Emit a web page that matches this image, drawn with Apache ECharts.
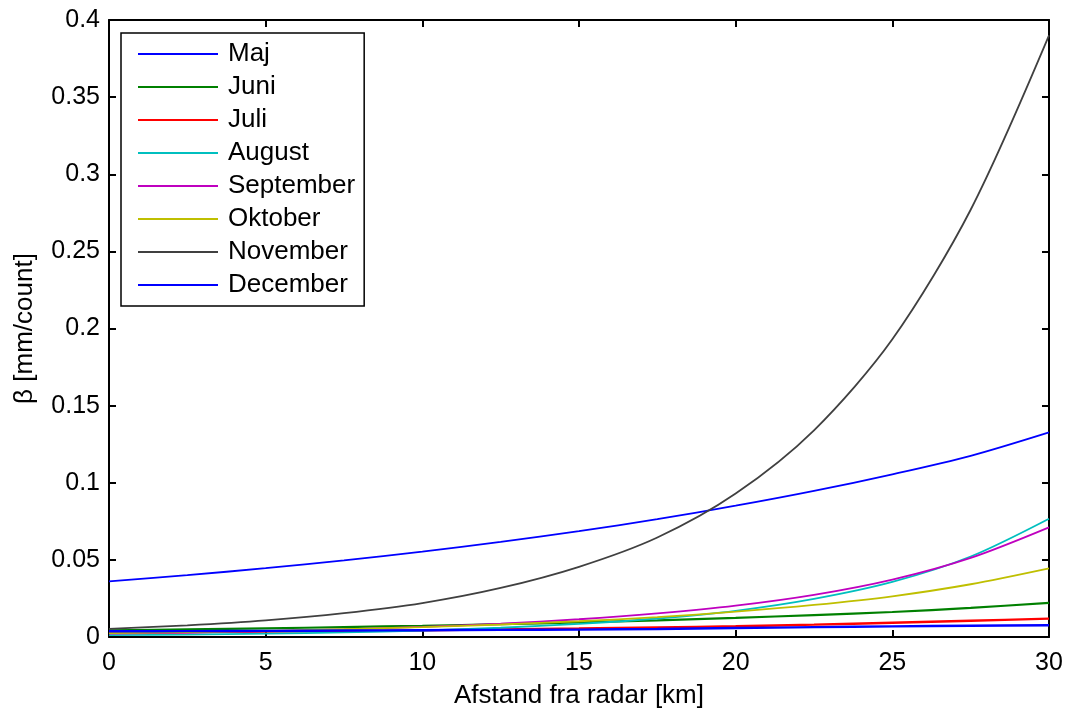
<!DOCTYPE html>
<html>
<head>
<meta charset="utf-8">
<script src="https://cdn.jsdelivr.net/npm/echarts@6/dist/echarts.min.js"></script>
<style>
  html, body { margin: 0; padding: 0; background: #fff; }
  #chart { width: 1069px; height: 708px; }
</style>
</head>
<body>
<div id="chart"></div>
<script>
// Distance from the radar [km]
const distanceKm = [0, 2.5, 5, 7.5, 10, 12.5, 15, 17.5, 20, 22.5, 25, 27.5, 30];

// beta [mm/count] per month
const maj       = [0.0360, 0.0401, 0.0446, 0.0497, 0.0553, 0.0616, 0.0686, 0.0764, 0.0851, 0.0947, 0.1055, 0.1175, 0.1327];
const juni      = [0.0043, 0.0049, 0.0056, 0.0064, 0.0073, 0.0083, 0.0095, 0.0108, 0.0124, 0.0142, 0.0162, 0.0189, 0.0221];
const juli      = [0.0028, 0.0031, 0.0035, 0.0039, 0.0043, 0.0049, 0.0055, 0.0062, 0.0070, 0.0080, 0.0092, 0.0105, 0.0119];
const august    = [0.0012, 0.0016, 0.0022, 0.0030, 0.0042, 0.0060, 0.0085, 0.0120, 0.0170, 0.0247, 0.0357, 0.0522, 0.0767];
const september = [0.0022, 0.0029, 0.0038, 0.0050, 0.0066, 0.0087, 0.0115, 0.0153, 0.0203, 0.0273, 0.0372, 0.0513, 0.0711];
const oktober   = [0.0025, 0.0032, 0.0040, 0.0051, 0.0064, 0.0081, 0.0102, 0.0129, 0.0164, 0.0208, 0.0264, 0.0342, 0.0445];
const november  = [0.0053, 0.0076, 0.0108, 0.0155, 0.0220, 0.0318, 0.0455, 0.0645, 0.0930, 0.1340, 0.1930, 0.2770, 0.3900];
const december  = [0.0037, 0.0038, 0.0040, 0.0042, 0.0044, 0.0046, 0.0048, 0.0052, 0.0058, 0.0064, 0.0069, 0.0073, 0.0076];

// Axis ticks
const xTicks = [0, 5, 10, 15, 20, 25, 30];
const yTickLabels = ['0', '0.05', '0.1', '0.15', '0.2', '0.25', '0.3', '0.35', '0.4'];

const months = [
  { name: 'Maj',       data: maj,       color: '#0000ff', width: 1.8 },
  { name: 'Juni',      data: juni,      color: '#008000', width: 2.2 },
  { name: 'Juli',      data: juli,      color: '#ff0000', width: 2.4 },
  { name: 'August',    data: august,    color: '#00bfbf', width: 1.8 },
  { name: 'September', data: september, color: '#bf00bf', width: 1.8 },
  { name: 'Oktober',   data: oktober,   color: '#bfbf00', width: 1.8 },
  { name: 'November',  data: november,  color: '#404040', width: 1.8 },
  { name: 'December',  data: december,  color: '#0000ff', width: 2.4 }
];

const FONT = '"Liberation Sans", Arial, sans-serif';

const axisCommon = {
  axisLine: { show: true, onZero: false, lineStyle: { color: '#000', width: 2 } },
  axisTick: { show: true, inside: true, length: 7, lineStyle: { color: '#000', width: 2 } },
  splitLine: { show: false }
};

const chart = echarts.init(document.getElementById('chart'), null, { renderer: 'canvas' });

chart.setOption({
  animation: false,
  backgroundColor: '#fff',
  grid: { left: 109, right: 20, top: 20, bottom: 71, containLabel: false, outerBoundsMode: 'none' },
  legend: {
    orient: 'vertical',
    left: 121,
    top: 33,
    padding: [8, 9, 8, 17],
    icon: 'rect',
    itemWidth: 80,
    itemHeight: 2,
    itemGap: 7,
    backgroundColor: '#fff',
    borderColor: '#000',
    borderWidth: 1.5,
    borderRadius: 0,
    textStyle: { fontFamily: FONT, fontSize: 26, lineHeight: 26, color: '#000', padding: [0, 0, 0, 5] },
    data: months.map(m => m.name)
  },
  xAxis: [
    Object.assign({
      type: 'value', position: 'bottom', min: 0, max: 30, interval: 5,
      name: 'Afstand fra radar [km]', nameLocation: 'middle', nameGap: 46,
      nameTextStyle: { fontFamily: FONT, fontSize: 26, color: '#000' },
      axisLabel: {
        margin: 14, fontFamily: FONT, fontSize: 25, color: '#000',
        formatter: v => (xTicks.indexOf(v) >= 0 ? String(v) : '')
      }
    }, axisCommon),
    Object.assign({
      type: 'value', position: 'top', min: 0, max: 30, interval: 5,
      axisLabel: { show: false }
    }, axisCommon)
  ],
  yAxis: [
    Object.assign({
      type: 'value', position: 'left', min: 0, max: 0.4, interval: 0.05,
      name: 'β [mm/count]', nameLocation: 'middle', nameGap: 71, nameRotate: 90,
      nameTextStyle: { fontFamily: FONT, fontSize: 26, color: '#000' },
      axisLabel: {
        margin: 9, fontFamily: FONT, fontSize: 25, color: '#000', padding: [3, 0, 0, 0],
        formatter: v => yTickLabels[Math.round(v / 0.05)] || ''
      }
    }, axisCommon),
    Object.assign({
      type: 'value', position: 'right', min: 0, max: 0.4, interval: 0.05,
      axisLabel: { show: false }
    }, axisCommon)
  ],
  series: months.map(m => ({
    name: m.name,
    type: 'line',
    xAxisIndex: 0,
    yAxisIndex: 0,
    smooth: 0.3,
    symbol: 'none',
    color: m.color,
    lineStyle: { color: m.color, width: m.width },
    data: distanceKm.map((x, i) => [x, m.data[i]])
  }))
});
</script>
</body>
</html>
